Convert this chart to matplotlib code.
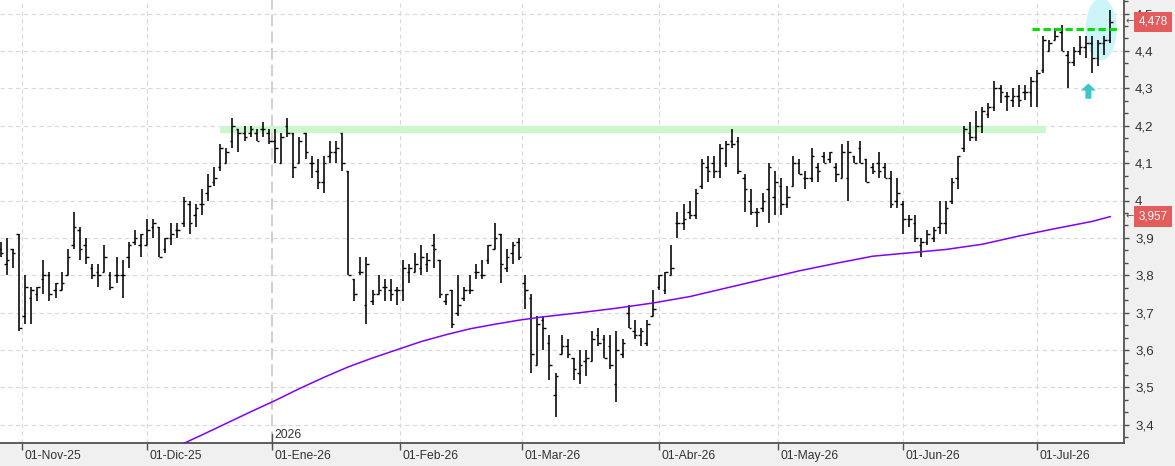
import matplotlib
matplotlib.use('Agg')
import matplotlib.pyplot as plt
import numpy as np
import pandas as pd
from matplotlib.ticker import MultipleLocator, AutoMinorLocator, FuncFormatter
from matplotlib.patches import Ellipse, FancyArrow

plt.rcParams['font.family'] = ['Liberation Sans', 'DejaVu Sans']

# ---------------- data ----------------
holidays = ['2025-12-25', '2025-12-26', '2026-01-01', '2026-04-03', '2026-04-06', '2026-05-01']
start_date, end_date = '2025-10-28', '2026-07-17'

opens = [3.87, 3.83, 3.87, 3.91, 3.69, 3.74, 3.75, 3.79, 3.80, 3.76,
         3.76, 3.80, 3.88, 3.92, 3.88, 3.82, 3.81, 3.81, 3.80, 3.80,
         3.80, 3.85, 3.89, 3.88, 3.88, 3.93, 3.93, 3.87, 3.90, 3.92,
         3.94, 3.99, 3.96, 3.99, 4.02, 4.05, 4.09, 4.10, 4.16, 4.19,
         4.18, 4.18, 4.18, 4.19, 4.18, 4.16, 4.10, 4.20, 4.18, 4.10,
         4.18, 4.10, 4.08, 4.05, 4.12, 4.13, 4.18, 4.08, 3.79, 3.81,
         3.72, 3.73, 3.75, 3.77, 3.76, 3.76, 3.76, 3.81, 3.81, 3.82,
         3.83, 3.88, 3.84, 3.73, 3.76, 3.70, 3.74, 3.76, 3.81, 3.80,
         3.84, 3.87, 3.91, 3.82, 3.86, 3.89, 3.78, 3.74, 3.56, 3.68,
         3.62, 3.48, 3.59, 3.61, 3.58, 3.54, 3.57, 3.57, 3.64, 3.63,
         3.61, 3.51, 3.59, 3.70, 3.65, 3.64, 3.62, 3.69, 3.77, 3.76,
         3.80, 3.94, 3.94, 3.97, 3.96, 4.04, 4.09, 4.10, 4.08, 4.10,
         4.16, 4.16, 4.06, 4.00, 3.97, 3.98, 4.03, 4.01, 4.04, 3.99,
         4.04, 4.10, 4.06, 4.06, 4.09, 4.12, 4.11, 4.09, 4.06, 4.06,
         4.12, 4.14, 4.11, 4.09, 4.10, 4.09, 4.06, 4.00, 3.99, 3.95,
         3.94, 3.88, 3.89, 3.90, 3.93, 3.94, 4.00, 4.06, 4.14, 4.18,
         4.17, 4.20, 4.23, 4.25, 4.30, 4.28, 4.27, 4.28, 4.29, 4.29,
         4.32, 4.35, 4.40, 4.43, 4.45, 4.39, 4.37, 4.40, 4.41, 4.42,
         4.38, 4.42, 4.43]
highs = [3.89, 3.90, 3.87, 3.91, 3.80, 3.77, 3.77, 3.84, 3.81, 3.78,
         3.81, 3.87, 3.97, 3.93, 3.90, 3.83, 3.83, 3.88, 3.81, 3.85,
         3.84, 3.89, 3.92, 3.91, 3.95, 3.95, 3.93, 3.90, 3.94, 3.94,
         4.01, 4.00, 3.99, 4.03, 4.07, 4.09, 4.15, 4.14, 4.22, 4.19,
         4.20, 4.20, 4.19, 4.21, 4.19, 4.19, 4.18, 4.22, 4.18, 4.17,
         4.18, 4.12, 4.11, 4.12, 4.16, 4.16, 4.18, 4.08, 3.79, 3.85,
         3.85, 3.76, 3.80, 3.79, 3.79, 3.77, 3.84, 3.83, 3.86, 3.88,
         3.86, 3.91, 3.84, 3.75, 3.76, 3.80, 3.77, 3.80, 3.83, 3.84,
         3.88, 3.94, 3.91, 3.87, 3.89, 3.90, 3.80, 3.75, 3.69, 3.69,
         3.64, 3.54, 3.64, 3.63, 3.58, 3.60, 3.60, 3.65, 3.66, 3.64,
         3.64, 3.65, 3.63, 3.72, 3.68, 3.66, 3.68, 3.76, 3.80, 3.81,
         3.88, 3.97, 3.99, 4.00, 4.03, 4.11, 4.12, 4.12, 4.15, 4.16,
         4.19, 4.17, 4.07, 4.03, 3.98, 4.02, 4.10, 4.08, 4.06, 4.04,
         4.12, 4.11, 4.08, 4.14, 4.10, 4.13, 4.13, 4.10, 4.15, 4.16,
         4.12, 4.16, 4.11, 4.10, 4.13, 4.10, 4.08, 4.06, 4.00, 3.96,
         3.96, 3.90, 3.92, 3.93, 4.00, 4.00, 4.06, 4.12, 4.20, 4.21,
         4.24, 4.25, 4.26, 4.32, 4.31, 4.29, 4.30, 4.31, 4.31, 4.33,
         4.35, 4.44, 4.43, 4.46, 4.47, 4.40, 4.41, 4.44, 4.44, 4.44,
         4.43, 4.44, 4.51]
lows = [3.85, 3.80, 3.82, 3.65, 3.67, 3.67, 3.73, 3.75, 3.73, 3.74,
        3.76, 3.80, 3.87, 3.84, 3.83, 3.79, 3.77, 3.81, 3.76, 3.78,
        3.74, 3.82, 3.88, 3.85, 3.88, 3.90, 3.85, 3.86, 3.88, 3.90,
        3.93, 3.91, 3.93, 3.96, 4.00, 4.04, 4.08, 4.10, 4.14, 4.13,
        4.16, 4.17, 4.16, 4.17, 4.15, 4.10, 4.10, 4.17, 4.06, 4.10,
        4.11, 4.06, 4.03, 4.02, 4.10, 4.10, 4.08, 3.80, 3.73, 3.80,
        3.67, 3.72, 3.75, 3.73, 3.73, 3.72, 3.73, 3.78, 3.81, 3.80,
        3.81, 3.82, 3.74, 3.72, 3.66, 3.69, 3.73, 3.75, 3.79, 3.79,
        3.83, 3.87, 3.78, 3.81, 3.83, 3.84, 3.71, 3.54, 3.56, 3.60,
        3.52, 3.42, 3.59, 3.58, 3.52, 3.51, 3.53, 3.57, 3.61, 3.58,
        3.55, 3.46, 3.58, 3.66, 3.63, 3.61, 3.61, 3.69, 3.76, 3.75,
        3.80, 3.90, 3.92, 3.95, 3.95, 4.03, 4.05, 4.06, 4.06, 4.09,
        4.14, 4.07, 3.97, 3.96, 3.93, 3.97, 3.94, 3.96, 3.96, 3.98,
        4.04, 4.07, 4.03, 4.05, 4.05, 4.10, 4.10, 4.05, 4.06, 4.00,
        4.10, 4.10, 4.05, 4.07, 4.06, 4.06, 3.98, 3.98, 3.91, 3.93,
        3.89, 3.85, 3.88, 3.89, 3.91, 3.91, 3.99, 4.03, 4.13, 4.16,
        4.16, 4.18, 4.22, 4.24, 4.26, 4.24, 4.25, 4.25, 4.27, 4.25,
        4.25, 4.34, 4.40, 4.43, 4.40, 4.30, 4.36, 4.39, 4.38, 4.34,
        4.36, 4.39, 4.42]
closes = [3.86, 3.84, 3.86, 3.66, 3.77, 3.76, 3.77, 3.80, 3.75, 3.78,
          3.78, 3.85, 3.93, 3.87, 3.85, 3.80, 3.80, 3.85, 3.77, 3.80,
          3.80, 3.88, 3.90, 3.91, 3.92, 3.94, 3.85, 3.90, 3.91, 3.92,
          4.00, 3.94, 3.98, 3.99, 4.04, 4.06, 4.14, 4.13, 4.20, 4.18,
          4.17, 4.19, 4.16, 4.19, 4.16, 4.14, 4.17, 4.18, 4.09, 4.16,
          4.13, 4.10, 4.05, 4.10, 4.13, 4.14, 4.10, 3.80, 3.75, 3.81,
          3.83, 3.75, 3.76, 3.77, 3.75, 3.76, 3.82, 3.82, 3.83, 3.85,
          3.84, 3.87, 3.75, 3.75, 3.67, 3.72, 3.76, 3.76, 3.81, 3.80,
          3.88, 3.90, 3.83, 3.85, 3.88, 3.85, 3.76, 3.59, 3.67, 3.66,
          3.56, 3.53, 3.61, 3.59, 3.55, 3.56, 3.58, 3.63, 3.62, 3.58,
          3.56, 3.60, 3.62, 3.66, 3.64, 3.65, 3.67, 3.71, 3.80, 3.81,
          3.82, 3.94, 3.95, 3.96, 4.02, 4.10, 4.08, 4.08, 4.14, 4.15,
          4.15, 4.08, 4.03, 3.97, 3.97, 4.00, 4.09, 4.05, 3.99, 4.01,
          4.10, 4.07, 4.06, 4.12, 4.08, 4.10, 4.13, 4.07, 4.13, 4.13,
          4.10, 4.10, 4.05, 4.08, 4.08, 4.06, 3.99, 4.02, 3.95, 3.95,
          3.90, 3.89, 3.91, 3.92, 3.94, 3.98, 4.05, 4.12, 4.19, 4.17,
          4.20, 4.24, 4.25, 4.30, 4.29, 4.28, 4.28, 4.27, 4.29, 4.32,
          4.34, 4.43, 4.42, 4.44, 4.40, 4.37, 4.40, 4.41, 4.42, 4.38,
          4.42, 4.43, 4.478]

# moving average read at selected sessions
ma_idx = [29, 33, 37, 41, 45, 49, 53, 57, 61, 65, 69, 73, 77, 81, 85, 89,
          95, 101, 107, 113, 119, 125, 131, 137, 143, 149, 155, 161, 167,
          173, 179, 182]
ma_val = [3.343, 3.373, 3.404, 3.435, 3.465, 3.497, 3.527, 3.555, 3.579,
          3.601, 3.623, 3.641, 3.657, 3.669, 3.680, 3.689, 3.700, 3.712,
          3.726, 3.743, 3.766, 3.789, 3.812, 3.832, 3.851, 3.860, 3.869,
          3.883, 3.905, 3.925, 3.944, 3.957]

# annotations
band_start, band_end = 35.9, 171.5
band_low, band_high = 4.180, 4.198
dash_start, dash_end, dash_level = 169.2, 183.4, 4.458
ellipse_center = (180.5, 4.458)
ellipse_w, ellipse_h = 5.1, 0.166
arrow_x, arrow_base, arrow_len = 178.4, 4.272, 0.041
last_price_label = 4.478
ma_label = 3.957

month_abbr = {1: 'Ene', 2: 'Feb', 3: 'Mar', 4: 'Abr', 5: 'May', 6: 'Jun',
              7: 'Jul', 8: 'Ago', 9: 'Sep', 10: 'Oct', 11: 'Nov', 12: 'Dic'}
month_starts = ['2025-11-01', '2025-12-01', '2026-01-01', '2026-02-01',
                '2026-03-01', '2026-04-01', '2026-05-01', '2026-06-01', '2026-07-01']

# ---------------- build ----------------
dates = pd.bdate_range(start_date, end_date)
dates = dates[~dates.isin(pd.to_datetime(holidays))]
n = len(opens)
x = np.arange(n)

month_pos = []
month_lab = []
for m in month_starts:
    d = pd.Timestamp(m)
    i = int(dates.searchsorted(d))
    pos = i if dates[i] == d else i - 0.5
    month_pos.append(pos)
    month_lab.append(f"01-{month_abbr[d.month]}-{d.strftime('%y')}")
year_pos = month_pos[2]

fig = plt.figure(figsize=(11.75, 4.66), dpi=100, facecolor='#f0f0f0')
ax = fig.add_axes([0, 23 / 466, 1124 / 1175, 443 / 466])
ax.set_facecolor('white')

ax.set_xlim(-0.11, 184.24)
ax.set_ylim(3.3516, 4.5361)

grid_kw = dict(color='#dadada', lw=0.8, ls=(0, (4, 3)), zorder=0)
for lv in np.arange(3.4, 4.51, 0.1):
    ax.axhline(lv, **grid_kw)
for p in month_pos:
    if p != year_pos:
        ax.axvline(p, **grid_kw)
ax.axvline(year_pos, color='#c8c8c8', lw=1.2, ls=(0, (7, 3)), zorder=0.5)

# resistance band & ellipse
ax.fill_between([band_start, band_end], band_low, band_high,
                color='#ccf7cc', lw=0, zorder=1)
ax.add_patch(Ellipse(ellipse_center, ellipse_w, ellipse_h,
                     facecolor='#cdf4f8', edgecolor='none', zorder=1.2))

# OHLC bars
ax.vlines(x, lows, highs, color='black', lw=1.15, zorder=3)
ax.hlines(opens, x - 0.42, x, color='black', lw=1.0, zorder=3)
ax.hlines(closes, x, x + 0.42, color='black', lw=1.0, zorder=3)

# moving average
ax.plot(ma_idx, ma_val, color='#8000ff', lw=1.1, zorder=3.5)

# green dashed level
ax.plot([dash_start, dash_end], [dash_level, dash_level], color='#00e000',
        lw=2.2, ls=(0, (2.4, 1.2)), zorder=4, solid_capstyle='butt')

# cyan arrow
ax.add_patch(FancyArrow(arrow_x, arrow_base, 0, arrow_len, width=0.98,
                        head_width=2.46, head_length=0.019,
                        length_includes_head=True, color='#3cc6c8',
                        lw=0, zorder=4))

# axes style
for s in ['top', 'left']:
    ax.spines[s].set_visible(False)
ax.spines['right'].set_color('#505050')
ax.spines['right'].set_linewidth(1.3)
ax.spines['bottom'].set_color('#505050')
ax.spines['bottom'].set_linewidth(1.3)

ax.yaxis.tick_right()
ax.yaxis.set_major_locator(MultipleLocator(0.1))
ax.yaxis.set_minor_locator(AutoMinorLocator(3))


def fmt(v, _):
    s = f"{v:.1f}"
    if s.endswith('.0'):
        s = s[:-2]
    return s.replace('.', ',')


ax.yaxis.set_major_formatter(FuncFormatter(fmt))
ax.tick_params(axis='y', which='major', length=3.5, width=1, color='#505050',
               labelsize=9.6, labelcolor='#333333', pad=4.5)
ax.tick_params(axis='y', which='minor', length=3, width=1, color='#505050')

ax.set_xticks(month_pos)
ax.tick_params(axis='x', length=5, width=1, color='#505050', labelbottom=False)

for p, lab in zip(month_pos, month_lab):
    ax.annotate(lab, xy=(p, 0), xycoords=('data', 'axes fraction'),
                xytext=(1.5, -9.7), textcoords='offset points',
                ha='left', va='center', fontsize=8.7, color='#333333',
                annotation_clip=False)

# 2026 year mark
ax.annotate('2026', xy=(year_pos, 0), xycoords=('data', 'axes fraction'),
            xytext=(1.5, 5.6), textcoords='offset points',
            ha='left', va='center', fontsize=8.7, color='#333333')
ax.plot([year_pos, year_pos], [0, 9 / 443], transform=ax.get_xaxis_transform(),
        color='#505050', lw=1, zorder=5, clip_on=False)

# price labels on right axis
for val in [last_price_label, ma_label]:
    ax.annotate(f"{val:.3f}".replace('.', ','),
                xy=(1, val), xycoords=ax.get_yaxis_transform(),
                xytext=(10.3, 0), textcoords='offset points',
                ha='left', va='center', fontsize=8.4, color='white',
                bbox=dict(boxstyle='square,pad=0.36', fc='#e35b5b', ec='none'),
                annotation_clip=False, zorder=6)
    ax.annotate('←', xy=(1, val), xycoords=ax.get_yaxis_transform(),
                xytext=(1.2, 0.5), textcoords='offset points',
                ha='left', va='center', fontsize=7, color='#555555',
                family=['DejaVu Sans'], annotation_clip=False, zorder=6)

fig.savefig('out.png', dpi=100, facecolor=fig.get_facecolor())
